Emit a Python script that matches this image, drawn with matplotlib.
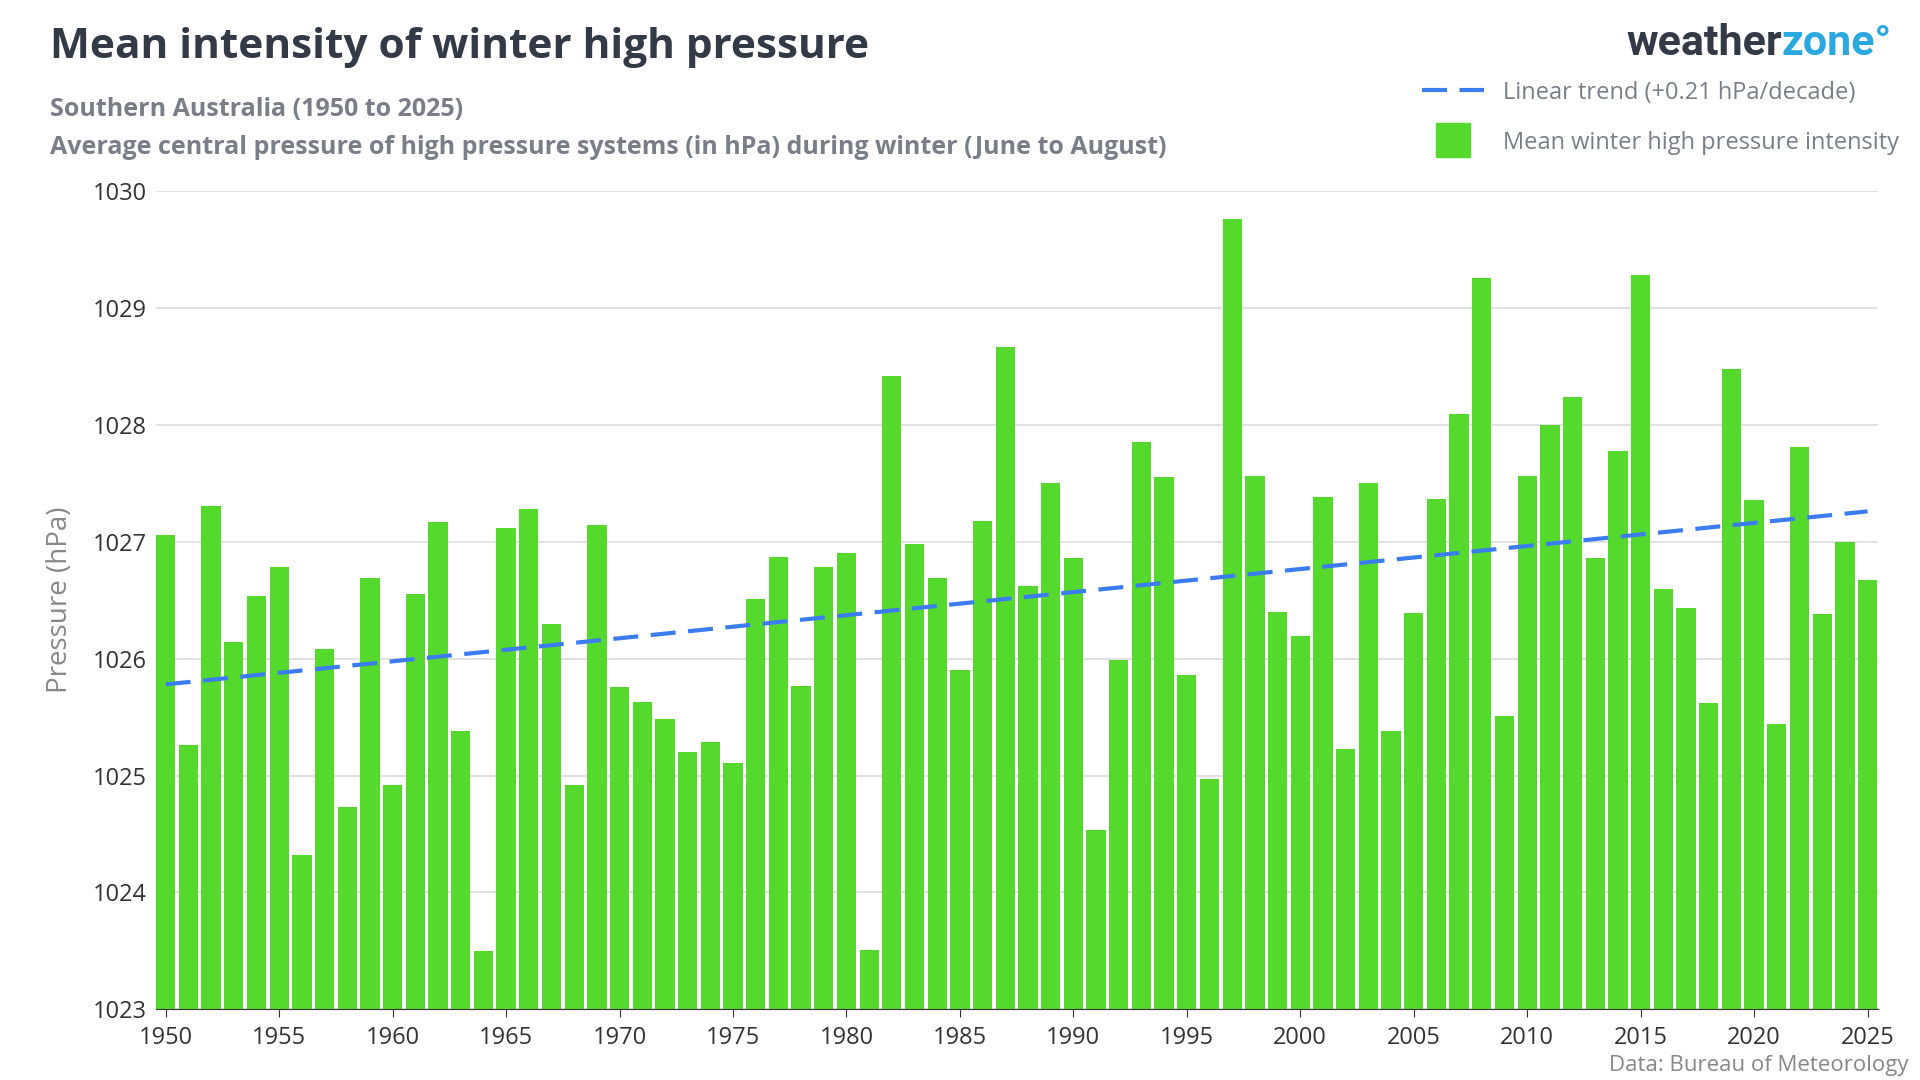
import numpy as np
import matplotlib
matplotlib.use("Agg")
import matplotlib.pyplot as plt
from matplotlib.lines import Line2D

years = list(range(1950, 2026))
pressure = [1027.06,1025.26,1027.31,1026.14,1026.54,1026.78,1024.32,1026.08,1024.73,1026.69,
            1024.92,1026.55,1027.17,1025.38,1023.50,1027.12,1027.28,1026.30,1024.92,1027.14,
            1025.76,1025.63,1025.48,1025.20,1025.29,1025.11,1026.51,1026.87,1025.77,1026.78,
            1026.90,1023.51,1028.42,1026.98,1026.69,1025.90,1027.18,1028.67,1026.62,1027.50,
            1026.86,1024.53,1025.99,1027.85,1027.55,1025.86,1024.97,1029.76,1027.56,1026.40,
            1026.19,1027.38,1025.23,1027.50,1025.38,1026.39,1027.37,1028.09,1029.26,1025.51,
            1027.56,1028.00,1028.24,1026.86,1027.78,1029.28,1026.60,1026.43,1025.62,1028.48,
            1027.36,1025.44,1027.81,1026.38,1027.00,1026.67]
trend_ends = [1025.78, 1027.26]
yticks = [1023,1024,1025,1026,1027,1028,1029,1030]
xticks = list(range(1950, 2026, 5))

plt.rcParams['font.family'] = ['Open Sans', 'DejaVu Sans']
fig = plt.figure(figsize=(19.2, 10.8), dpi=100)
ax = fig.add_axes([0.081, 0.0655, 0.897, 0.7575])
green = '#56d92d'
blue = '#3b7df0'
ax.bar(years, [p - 1023 for p in pressure], bottom=1023, width=0.85, color=green, zorder=2)
ax.plot([years[0], years[-1]], trend_ends, color=blue, lw=3, dashes=(6, 3), zorder=3)
ax.set_ylim(1023, 1030)
ax.set_xlim(1949.55, 2025.45)
ax.set_yticks(yticks)
ax.set_xticks(xticks)
ax.grid(axis='y', color='#dddddd', lw=1.2, zorder=0)
for s in ['top', 'right', 'left']:
    ax.spines[s].set_visible(False)
ax.spines['bottom'].set_color('#333333')
ax.tick_params(axis='both', labelsize=17, colors='#333333', length=0, pad=6)
ax.tick_params(axis='x', length=6)
ax.set_ylabel('Pressure (hPa)', fontsize=20, color='#888888', labelpad=14)

fig.text(0.026, 0.956, 'Mean intensity of winter high pressure', fontsize=30.5, fontweight='bold',
         color='#343a45', va='center')
fig.text(0.026, 0.899, 'Southern Australia (1950 to 2025)', fontsize=18, fontweight='bold',
         color='#7a7f87', va='center')
fig.text(0.026, 0.863, 'Average central pressure of high pressure systems (in hPa) during winter (June to August)',
         fontsize=18, fontweight='bold', color='#7a7f87', va='center')
fig.text(0.928, 0.96, 'weather', fontsize=31, fontweight='bold', family=['Roboto', 'DejaVu Sans'],
         color='#343a45', va='center', ha='right')
fig.text(0.928, 0.96, 'zone°', fontsize=31, fontweight='bold', family=['Roboto', 'DejaVu Sans'],
         color='#2aa8e0', va='center', ha='left')
fig.text(0.994, 0.008, 'Data: Bureau of Meteorology', fontsize=16, color='#888888', ha='right')

handles = [Line2D([], [], color=blue, lw=3, dashes=(6, 3)),
           Line2D([], [], color=green, marker='s', markersize=24, linestyle='none')]
labels = ['Linear trend (+0.21 hPa/decade)', 'Mean winter high pressure intensity']
fig.legend(handles, labels, loc='upper right', bbox_to_anchor=(1.0, 0.945), frameon=False,
           fontsize=17, labelcolor='#7a7f87', handlelength=2.6, labelspacing=1.1)
fig.savefig('out.png', dpi=100)
